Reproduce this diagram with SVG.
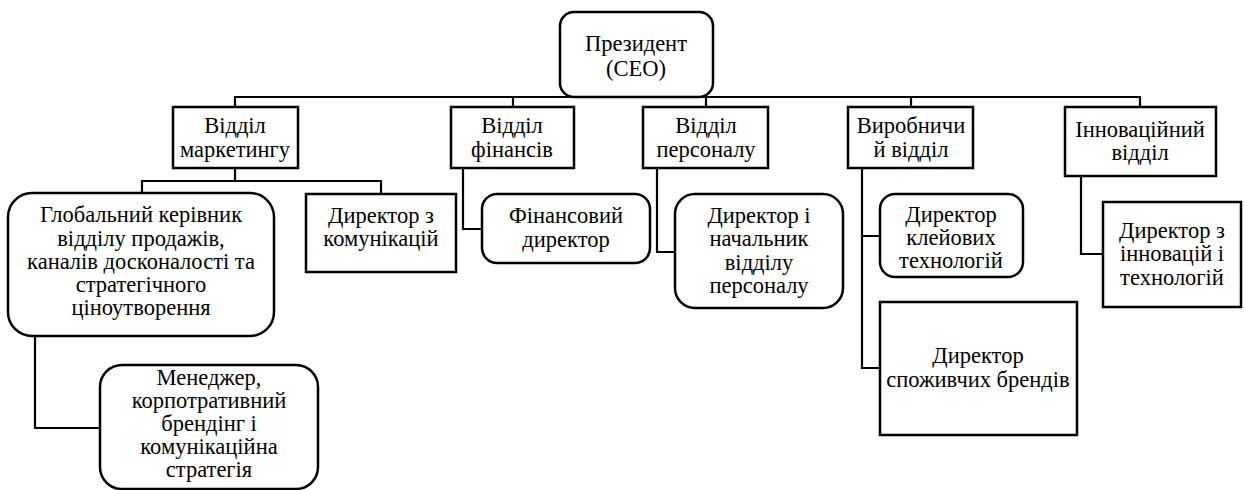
<svg xmlns="http://www.w3.org/2000/svg" width="1245" height="490" viewBox="0 0 1245 490">
<style>
text{font-family:'Times New Roman','Liberation Serif','DejaVu Serif',serif !important}
.b{fill:#fff;stroke:#000;stroke-width:2.5}
.c{fill:none;stroke:#000;stroke-width:2.2}
.t{font-size:22.5px;text-anchor:middle;fill:#000}
</style>
<rect width="1245" height="490" fill="#fff"/>
<g id="connectors" class="c">
<path d="M235,107 V97 H1140 V107"/>
<path d="M513,97 V107 M706,97 V107 M911,97 V107"/>
<path d="M235,168 V181 M142,193 V181 H381 V194"/>
<path d="M35,336 V428 H100"/>
<path d="M463,168 V229 H482"/>
<path d="M657,168 V252 H675"/>
<path d="M862,168 V368 H880 M862,236 H880"/>
<path d="M1081,176 V254 H1103"/>
</g>
<g id="ceo"><rect class="b" x="560" y="12" width="153" height="85" rx="14"/><text class="t" font-family="Times New Roman" x="636" y="51">Президент</text><text class="t" font-family="Times New Roman" x="636" y="76">(СЕО)</text></g>
<g id="marketing"><rect class="b" x="173" y="107" width="125" height="61"/><text class="t" font-family="Times New Roman" x="235" y="133">Відділ</text><text class="t" font-family="Times New Roman" x="235" y="157">маркетингу</text></g>
<g id="finance"><rect class="b" x="451" y="107" width="123" height="61"/><text class="t" font-family="Times New Roman" x="512" y="133">Відділ</text><text class="t" font-family="Times New Roman" x="512" y="157">фінансів</text></g>
<g id="personnel"><rect class="b" x="643" y="107" width="125" height="61"/><text class="t" font-family="Times New Roman" x="706" y="133">Відділ</text><text class="t" font-family="Times New Roman" x="706" y="157">персоналу</text></g>
<g id="production"><rect class="b" x="848" y="107" width="125" height="61"/><text class="t" font-family="Times New Roman" x="911" y="133">Виробничи</text><text class="t" font-family="Times New Roman" x="911" y="157">й відділ</text></g>
<g id="innovation"><rect class="b" x="1065" y="107" width="151" height="69"/><text class="t" font-family="Times New Roman" x="1140" y="137">Інноваційний</text><text class="t" font-family="Times New Roman" x="1140" y="160">відділ</text></g>
<g id="global"><rect class="b" x="8" y="193" width="266" height="143" rx="24"/><text class="t" font-family="Times New Roman" x="141" y="222">Глобальний керівник</text><text class="t" font-family="Times New Roman" x="141" y="246">відділу продажів,</text><text class="t" font-family="Times New Roman" x="141" y="269">каналів досконалості та</text><text class="t" font-family="Times New Roman" x="141" y="292">стратегічного</text><text class="t" font-family="Times New Roman" x="141" y="315">ціноутворення</text></g>
<g id="manager"><rect class="b" x="100" y="365" width="218" height="124" rx="22"/><text class="t" font-family="Times New Roman" x="209" y="385">Менеджер,</text><text class="t" font-family="Times New Roman" x="209" y="408">корпотративний</text><text class="t" font-family="Times New Roman" x="209" y="431">брендінг і</text><text class="t" font-family="Times New Roman" x="209" y="454">комунікаційна</text><text class="t" font-family="Times New Roman" x="209" y="477">стратегія</text></g>
<g id="comms"><rect class="b" x="306" y="194" width="150" height="78"/><text class="t" font-family="Times New Roman" x="381" y="223">Директор з</text><text class="t" font-family="Times New Roman" x="381" y="246">комунікацій</text></g>
<g id="cfo"><rect class="b" x="482" y="194" width="168" height="69" rx="15"/><text class="t" font-family="Times New Roman" x="566" y="223">Фінансовий</text><text class="t" font-family="Times New Roman" x="566" y="247">директор</text></g>
<g id="hr"><rect class="b" x="675" y="194" width="168" height="114" rx="20"/><text class="t" font-family="Times New Roman" x="759" y="223">Директор і</text><text class="t" font-family="Times New Roman" x="759" y="246">начальник</text><text class="t" font-family="Times New Roman" x="759" y="270">відділу</text><text class="t" font-family="Times New Roman" x="759" y="293">персоналу</text></g>
<g id="adhesive"><rect class="b" x="880" y="194" width="143" height="83" rx="15"/><text class="t" font-family="Times New Roman" x="951" y="222">Директор</text><text class="t" font-family="Times New Roman" x="951" y="245">клейових</text><text class="t" font-family="Times New Roman" x="951" y="268">технологій</text></g>
<g id="consumer"><rect class="b" x="880" y="302" width="197" height="133"/><text class="t" font-family="Times New Roman" x="978" y="363">Директор</text><text class="t" font-family="Times New Roman" x="978" y="387">споживчих брендів</text></g>
<g id="innodir"><rect class="b" x="1103" y="202" width="138" height="105"/><text class="t" font-family="Times New Roman" x="1172" y="238">Директор з</text><text class="t" font-family="Times New Roman" x="1172" y="261">інновацій і</text><text class="t" font-family="Times New Roman" x="1172" y="285">технологій</text></g>
</svg>
